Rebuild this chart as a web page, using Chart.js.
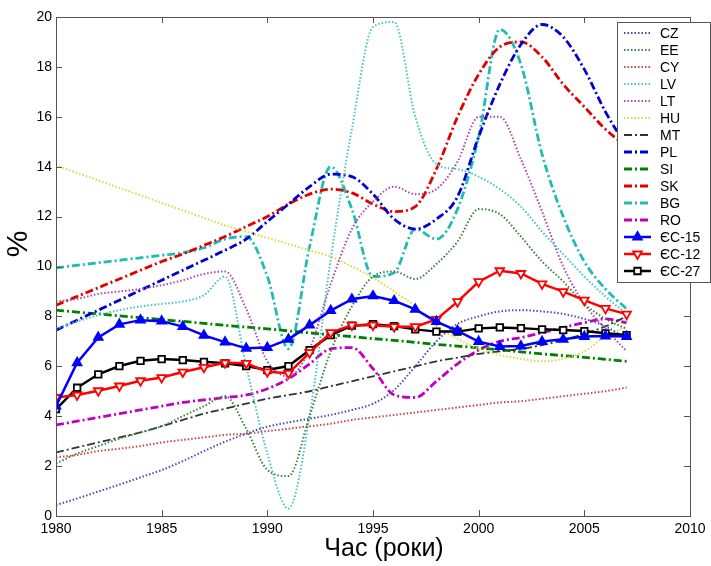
<!DOCTYPE html>
<html>
<head>
<meta charset="utf-8">
<script src="https://cdn.jsdelivr.net/npm/chart.js@4.4.1/dist/chart.umd.min.js"></script>
<style>
  html, body { margin: 0; padding: 0; background: #fff; }
  #wrap { width: 711px; height: 566px; }
</style>
</head>
<body>
<div id="wrap"><canvas id="chart" width="711" height="566"></canvas></div>
<script>
// data (% per year)
const years = [1980,1981,1982,1983,1984,1985,1986,1987,1988,1989,1990,1991,1992,1993,
               1994,1995,1996,1997,1998,1999,2000,2001,2002,2003,2004,2005,2006,2007];

const CZ = [0.44,0.7,0.98,1.26,1.55,1.84,2.2,2.6,2.98,3.3,3.58,3.75,3.9,4.05,4.25,4.5,5.05,6.0,7.0,7.7,8.0,8.2,8.25,8.2,8.1,7.9,7.6,7.1];
const EE = [2.1,2.5,2.8,3.1,3.35,3.6,4.0,4.4,4.8,3.5,1.85,1.6,4.0,6.6,8.4,9.6,9.8,9.5,10.1,11.0,12.3,12.1,11.2,10.2,9.4,8.5,7.9,7.5];
const CY = [2.35,2.45,2.6,2.7,2.8,2.95,3.05,3.15,3.25,3.3,3.4,3.5,3.6,3.7,3.85,3.95,4.05,4.15,4.25,4.35,4.45,4.55,4.6,4.7,4.8,4.9,5.0,5.15];
const LV = [7.5,7.8,8.05,8.25,8.4,8.5,8.6,8.85,9.6,6.0,2.5,0.3,4.0,10.3,15.5,19.6,19.8,16.0,14.1,13.9,13.6,13.1,12.4,11.4,10.5,9.6,8.8,8.1];
const LT = [8.6,8.7,8.9,9.0,9.1,9.25,9.45,9.7,9.8,8.3,6.2,5.6,6.7,9.3,11.5,12.6,13.2,12.9,13.1,14.2,16.0,16.0,14.3,12.2,10.0,8.5,7.5,6.6];
const HU = [14.05,13.75,13.45,13.15,12.85,12.55,12.25,11.95,11.65,11.4,11.15,10.9,10.65,10.4,10.0,9.55,9.0,8.4,7.6,7.1,6.7,6.45,6.3,6.2,6.3,6.6,7.2,7.6];
const MT = [2.55,2.75,2.95,3.15,3.35,3.6,3.85,4.1,4.3,4.5,4.7,4.85,5.0,5.2,5.4,5.6,5.8,6.0,6.2,6.35,6.5,6.6,6.7,6.85,7.05,7.3,7.6,8.0];
const PL = [7.45,7.85,8.25,8.65,9.05,9.45,9.85,10.25,10.65,11.1,11.8,12.5,13.2,13.7,13.6,12.9,11.9,11.5,11.9,12.8,15.2,17.3,18.9,19.7,19.2,17.9,16.2,14.8];
const SI = [8.25,8.17,8.1,8.02,7.95,7.87,7.8,7.72,7.64,7.57,7.5,7.42,7.34,7.26,7.19,7.11,7.04,6.96,6.88,6.81,6.74,6.66,6.58,6.5,6.43,6.36,6.28,6.2];
const SK = [8.45,8.8,9.15,9.5,9.85,10.2,10.5,10.85,11.2,11.6,12.0,12.5,12.9,13.1,12.95,12.5,12.2,12.4,13.9,16.0,17.7,18.8,19.0,18.4,17.3,16.4,15.5,14.8];
const BG = [9.95,10.05,10.15,10.25,10.35,10.45,10.55,10.75,11.1,11.2,9.6,6.7,10.8,14.0,12.3,9.6,9.75,11.5,11.1,12.3,15.2,19.5,18.1,14.5,12.0,10.2,9.1,8.3];
const RO = [3.65,3.8,3.95,4.1,4.25,4.4,4.55,4.65,4.75,4.85,5.1,5.5,6.1,6.7,6.75,5.9,4.85,4.75,5.4,6.1,6.65,7.0,7.15,7.35,7.55,7.75,7.9,7.75];
const EU15 = [4.4,6.14,7.16,7.68,7.85,7.81,7.59,7.24,6.97,6.72,6.75,7.08,7.65,8.23,8.69,8.82,8.63,8.28,7.79,7.42,6.99,6.79,6.81,6.99,7.08,7.19,7.21,7.19];
const EU12 = [4.75,4.85,5.02,5.21,5.42,5.55,5.77,5.96,6.14,6.12,5.78,5.72,6.55,7.35,7.65,7.65,7.59,7.59,7.88,8.59,9.39,9.83,9.72,9.30,8.99,8.65,8.32,8.09];
const EU27 = [4.28,5.14,5.68,6.01,6.22,6.29,6.25,6.18,6.12,6.01,5.85,6.01,6.65,7.25,7.63,7.69,7.61,7.48,7.39,7.39,7.52,7.56,7.53,7.48,7.45,7.41,7.32,7.25];

const xTicks = [1980, 1985, 1990, 1995, 2000, 2005, 2010];
const yTicks = [0, 2, 4, 6, 8, 10, 12, 14, 16, 18, 20];

const FONT = "'Liberation Sans', Arial, sans-serif";
const DOT = [1.5, 2];
const DASHDOT = [8, 3, 2, 3];

function pts(vals) {
  return years.map((yr, i) => ({ x: yr, y: vals[i] }));
}

function country(label, vals, color, dash, width) {
  return {
    label, data: pts(vals), borderColor: color, backgroundColor: color,
    borderDash: dash, borderWidth: width, pointRadius: 0,
    cubicInterpolationMode: 'monotone', order: 2
  };
}

function aggregate(label, vals, color, style, fill, rot, radius) {
  return {
    label, data: pts(vals), borderColor: color, backgroundColor: fill,
    borderWidth: 2.5, pointStyle: style, pointRotation: rot, pointRadius: radius,
    pointBorderWidth: 1.8, pointBackgroundColor: fill, pointBorderColor: color,
    tension: 0, order: 1
  };
}

const datasets = [
  country('CZ', CZ, '#4b4bb4', DOT, 2),
  country('EE', EE, '#3f7f3f', DOT, 2),
  country('CY', CY, '#c84848', DOT, 2),
  country('LV', LV, '#44c4c4', DOT, 2),
  country('LT', LT, '#a848a8', DOT, 2),
  country('HU', HU, '#d8d840', DOT, 2),
  country('MT', MT, '#333333', DASHDOT, 1.8),
  country('PL', PL, '#0000d0', DASHDOT, 2.8),
  country('SI', SI, '#008000', DASHDOT, 2.8),
  country('SK', SK, '#e00000', DASHDOT, 2.8),
  country('BG', BG, '#20bcb4', DASHDOT, 2.8),
  country('RO', RO, '#c000c0', DASHDOT, 2.8),
  aggregate('ЄС-15', EU15, '#0000ff', 'triangle', '#0000ff', 0, 5),
  aggregate('ЄС-12', EU12, '#ff0000', 'triangle', '#ffffff', 180, 5),
  aggregate('ЄС-27', EU27, '#000000', 'rect', '#ffffff', 0, 4.6)
];

/* frame, inward ticks, axis titles and legend box */
const decor = {
  id: 'decor',
  afterDraw(chart) {
    const ctx = chart.ctx;
    const a = chart.chartArea;
    const xs = chart.scales.x, ys = chart.scales.y;
    ctx.save();
    ctx.strokeStyle = '#555';
    ctx.lineWidth = 1;
    ctx.strokeRect(a.left + 0.5, a.top + 0.5, a.right - a.left, a.bottom - a.top);
    ctx.beginPath();
    xTicks.forEach(v => {
      const px = Math.round(xs.getPixelForValue(v)) + 0.5;
      ctx.moveTo(px, a.bottom); ctx.lineTo(px, a.bottom - 6);
      ctx.moveTo(px, a.top); ctx.lineTo(px, a.top + 6);
    });
    yTicks.forEach(v => {
      const py = Math.round(ys.getPixelForValue(v)) + 0.5;
      ctx.moveTo(a.left, py); ctx.lineTo(a.left + 6, py);
      ctx.moveTo(a.right, py); ctx.lineTo(a.right - 6, py);
    });
    ctx.stroke();

    // axis titles
    ctx.fillStyle = '#000';
    ctx.font = '25px ' + FONT;
    ctx.textAlign = 'center';
    ctx.textBaseline = 'middle';
    ctx.fillText('Час (роки)', 384, 549);
    ctx.save();
    ctx.translate(19, 244);
    ctx.rotate(-Math.PI / 2);
    ctx.font = '30px ' + FONT;
    ctx.fillText('%', 0, 0);
    ctx.restore();

    // legend
    const lx = 617, ly = 22, lw = 93, lh = 260, row = 17;
    ctx.fillStyle = '#fff';
    ctx.fillRect(lx, ly, lw, lh);
    ctx.strokeStyle = '#555';
    ctx.strokeRect(lx + 0.5, ly + 0.5, lw, lh);
    ctx.font = '14px ' + FONT;
    ctx.textAlign = 'left';
    chart.data.datasets.forEach((ds, i) => {
      const cy = ly + 11 + i * row;
      ctx.save();
      ctx.strokeStyle = ds.borderColor;
      ctx.lineWidth = ds.borderWidth;
      ctx.setLineDash(ds.borderDash || []);
      ctx.beginPath();
      ctx.moveTo(624, cy); ctx.lineTo(651, cy);
      ctx.stroke();
      ctx.restore();
      if (ds.pointRadius) {
        ctx.save();
        ctx.strokeStyle = ds.pointBorderColor;
        ctx.fillStyle = ds.pointBackgroundColor;
        ctx.lineWidth = ds.pointBorderWidth;
        Chart.helpers.drawPoint(ctx, {
          pointStyle: ds.pointStyle, rotation: ds.pointRotation,
          radius: ds.pointRadius, borderWidth: ds.pointBorderWidth
        }, 637.5, cy);
        ctx.restore();
      }
      ctx.fillStyle = '#000';
      ctx.fillText(ds.label, 660, cy + 1);
    });
    ctx.restore();
  }
};

new Chart(document.getElementById('chart'), {
  type: 'line',
  data: { datasets },
  options: {
    responsive: false,
    animation: false,
    layout: { padding: { top: 17, right: 21, left: 0, bottom: 0 } },
    plugins: { legend: { display: false }, tooltip: { enabled: false } },
    scales: {
      x: {
        type: 'linear', min: 1980, max: 2010,
        afterFit: s => { s.height = 50; },
        afterBuildTicks: s => { s.ticks = xTicks.map(v => ({ value: v })); },
        grid: { display: false, drawTicks: false },
        border: { display: false },
        ticks: { color: '#000', font: { size: 14, family: FONT }, padding: 5,
                 maxRotation: 0, callback: v => String(v) }
      },
      y: {
        min: 0, max: 20,
        afterFit: s => { s.width = 56; },
        afterBuildTicks: s => { s.ticks = yTicks.map(v => ({ value: v })); },
        grid: { display: false, drawTicks: false },
        border: { display: false },
        ticks: { color: '#000', font: { size: 14, family: FONT }, padding: 4,
                 callback: v => String(v) }
      }
    }
  },
  plugins: [decor]
});
</script>
</body>
</html>
